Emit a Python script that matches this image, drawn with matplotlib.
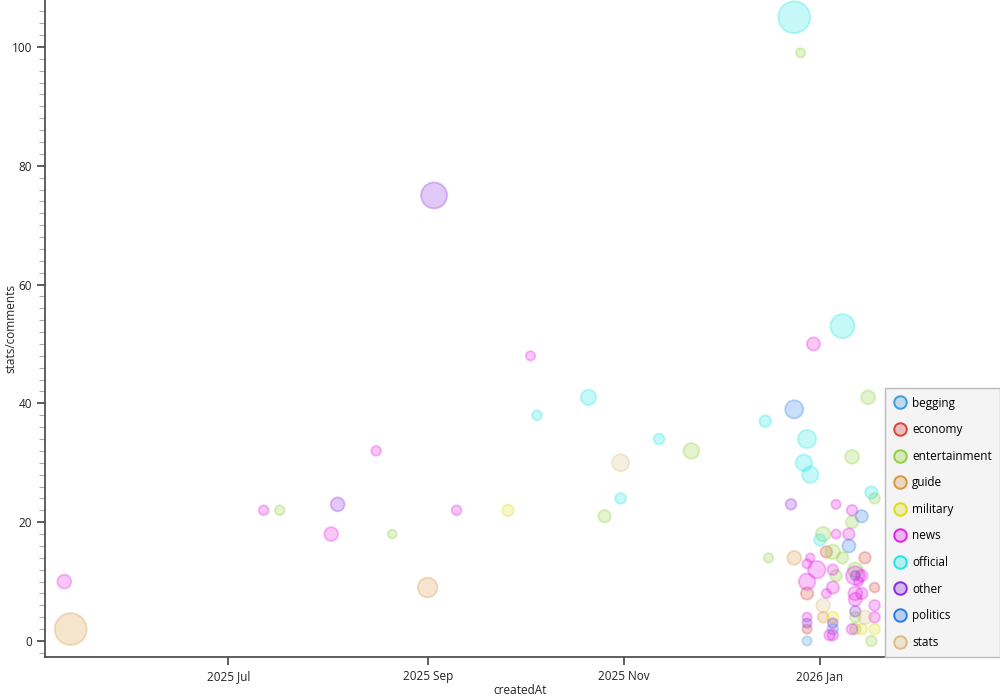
import matplotlib
matplotlib.use("Agg")
import matplotlib.pyplot as plt
import matplotlib.dates as mdates
from matplotlib.colors import to_rgba
from matplotlib.ticker import MultipleLocator
from matplotlib.lines import Line2D
import pandas as pd

plt.rcParams['font.family'] = ['Open Sans', 'DejaVu Sans']

created_at = [
    '2025-05-11', '2025-05-13', '2025-07-12', '2025-07-17', '2025-08-02', '2025-08-04',
    '2025-08-16', '2025-08-21', '2025-09-01', '2025-09-03', '2025-09-10', '2025-09-26',
    '2025-10-03', '2025-10-05', '2025-10-21', '2025-10-26', '2025-10-31', '2025-10-31',
    '2025-11-12', '2025-11-22', '2025-12-15', '2025-12-16', '2025-12-24', '2025-12-26',
    '2025-12-24', '2025-12-23', '2025-12-24', '2025-12-28', '2025-12-27', '2025-12-29',
    '2025-12-30', '2026-01-08', '2026-01-16', '2026-01-11', '2026-01-17', '2026-01-18',
    '2026-01-14', '2026-01-06', '2026-01-11', '2026-01-11', '2026-01-10', '2026-01-02',
    '2026-01-01', '2026-01-06', '2026-01-10', '2026-01-03', '2026-01-05', '2026-01-08',
    '2026-01-15', '2025-12-29', '2025-12-28', '2025-12-31', '2026-01-05', '2026-01-06',
    '2026-01-12', '2026-01-12', '2026-01-12', '2026-01-14', '2026-01-13', '2025-12-28',
    '2026-01-05', '2026-01-03', '2025-12-28', '2026-01-12', '2026-01-12', '2026-01-14',
    '2026-01-18', '2026-01-02', '2026-01-18', '2026-01-12', '2025-12-28', '2026-01-02',
    '2026-01-05', '2026-01-12', '2026-01-15', '2026-01-18', '2025-12-28', '2026-01-05',
    '2025-12-28', '2026-01-05', '2026-01-11', '2026-01-12', '2026-01-14', '2026-01-18',
    '2026-01-04', '2026-01-05', '2025-12-28', '2026-01-17',
]
comments = [
    10, 2, 22, 22, 18, 23,
    32, 18, 9, 75, 22, 22,
    48, 38, 41, 21, 24, 30,
    34, 32, 37, 14, 105, 99,
    39, 23, 14, 34, 30, 28,
    50, 53, 41, 31, 25, 24,
    21, 23, 20, 22, 18, 18,
    17, 18, 16, 15, 15, 14,
    14, 14, 13, 12, 12, 11,
    12, 11, 11, 11, 10, 10,
    9, 8, 8, 8, 7, 8,
    9, 6, 6, 5, 4, 4,
    4, 4, 4, 4, 3, 3,
    2, 2, 2, 2, 2, 2,
    1, 1, 0, 0,
]
category = [
    'news', 'guide', 'news', 'entertainment', 'news', 'other',
    'news', 'entertainment', 'guide', 'other', 'news', 'military',
    'news', 'official', 'official', 'entertainment', 'official', 'stats',
    'official', 'entertainment', 'official', 'entertainment', 'official', 'entertainment',
    'politics', 'other', 'guide', 'official', 'official', 'official',
    'news', 'official', 'entertainment', 'entertainment', 'official', 'entertainment',
    'politics', 'news', 'entertainment', 'news', 'news', 'entertainment',
    'official', 'news', 'politics', 'economy', 'entertainment', 'entertainment',
    'economy', 'news', 'news', 'news', 'news', 'entertainment',
    'entertainment', 'news', 'other', 'news', 'news', 'news',
    'news', 'news', 'economy', 'news', 'news', 'news',
    'economy', 'stats', 'news', 'other', 'news', 'guide',
    'military', 'entertainment', 'stats', 'news', 'other', 'other',
    'economy', 'begging', 'news', 'entertainment', 'military', 'military',
    'news', 'news', 'begging', 'entertainment',
]
# bubble weight (relative)
weight = [
    100, 530, 50, 50, 100, 100,
    50, 40, 200, 350, 50, 70,
    45, 50, 120, 80, 60, 150,
    60, 130, 70, 45, 530, 45,
    170, 60, 100, 170, 140, 140,
    90, 300, 100, 100, 80, 60,
    80, 45, 80, 60, 70, 110,
    70, 45, 90, 70, 110, 70,
    70, 40, 45, 160, 60, 70,
    110, 180, 45, 70, 45, 140,
    80, 45, 80, 100, 90, 70,
    50, 100, 60, 60, 45, 60,
    70, 60, 100, 60, 45, 50,
    45, 60, 60, 60, 60, 60,
    60, 60, 45, 60,
]

categories = ['begging', 'economy', 'entertainment', 'guide', 'military',
              'news', 'official', 'other', 'politics', 'stats']
colors = {
    'begging': '#3d9be0',
    'economy': '#d9443a',
    'entertainment': '#8fd13a',
    'guide': '#d9953f',
    'military': '#e0dc1a',
    'news': '#e620e6',
    'official': '#1ee6e6',
    'other': '#8a2be2',
    'politics': '#2a7de6',
    'stats': '#dcbc80',
}

df = pd.DataFrame({
    'createdAt': pd.to_datetime(created_at),
    'comments': comments,
    'category': category,
    'weight': weight,
})

fig = plt.figure(figsize=(10, 7), dpi=100)
ax = fig.add_axes([0.045, 0.0614, 0.955, 0.9386])

for cat in categories:
    sub = df[df['category'] == cat]
    if sub.empty:
        continue
    c = colors[cat]
    ax.scatter(sub['createdAt'], sub['comments'], s=sub['weight'],
               facecolor=to_rgba(c, 0.25), edgecolor=to_rgba(c, 0.3),
               linewidth=1.3, zorder=3)

ax.set_xlim(pd.Timestamp('2025-05-05'), pd.Timestamp('2026-02-26'))
ax.set_ylim(-2.7, 107.9)

ax.xaxis.set_major_locator(mdates.MonthLocator(bymonth=[1, 3, 5, 7, 9, 11]))
ax.xaxis.set_major_formatter(mdates.DateFormatter('%Y %b'))
ax.yaxis.set_major_locator(MultipleLocator(20))
ax.yaxis.set_minor_locator(MultipleLocator(2))

for side in ['top', 'right']:
    ax.spines[side].set_visible(False)
for side in ['left', 'bottom']:
    ax.spines[side].set_color('#444444')
    ax.spines[side].set_linewidth(1.2)

ax.tick_params(axis='both', which='major', length=6, width=1.2, color='#444444',
               labelsize=8.5, labelcolor='#222222')
ax.tick_params(axis='y', which='minor', length=4, width=0.8, color='#aaaaaa')

# axis titles placed like the original
fig.text(0.52, 1 - 690 / 700, 'createdAt', ha='center', va='center',
         fontsize=8.5, color='#222222')
fig.text(0.011, 1 - 328 / 700, 'stats/comments', ha='center', va='center',
         rotation=90, fontsize=8.5, color='#222222')

handles = [Line2D([0], [0], marker='o', linestyle='', markersize=9,
                  markerfacecolor=to_rgba(colors[c], 0.3),
                  markeredgecolor=colors[c], markeredgewidth=1.4, label=c)
           for c in categories]
leg = ax.legend(handles=handles, loc='lower right', borderaxespad=0,
                fontsize=8.5, frameon=True, fancybox=False,
                handletextpad=0.4, labelspacing=1.15, borderpad=0.7,
                handlelength=1.2)
leg.get_frame().set_facecolor('#f4f4f4')
leg.get_frame().set_edgecolor('#bbbbbb')
leg.get_frame().set_alpha(1)

fig.savefig('out.png', dpi=100)
